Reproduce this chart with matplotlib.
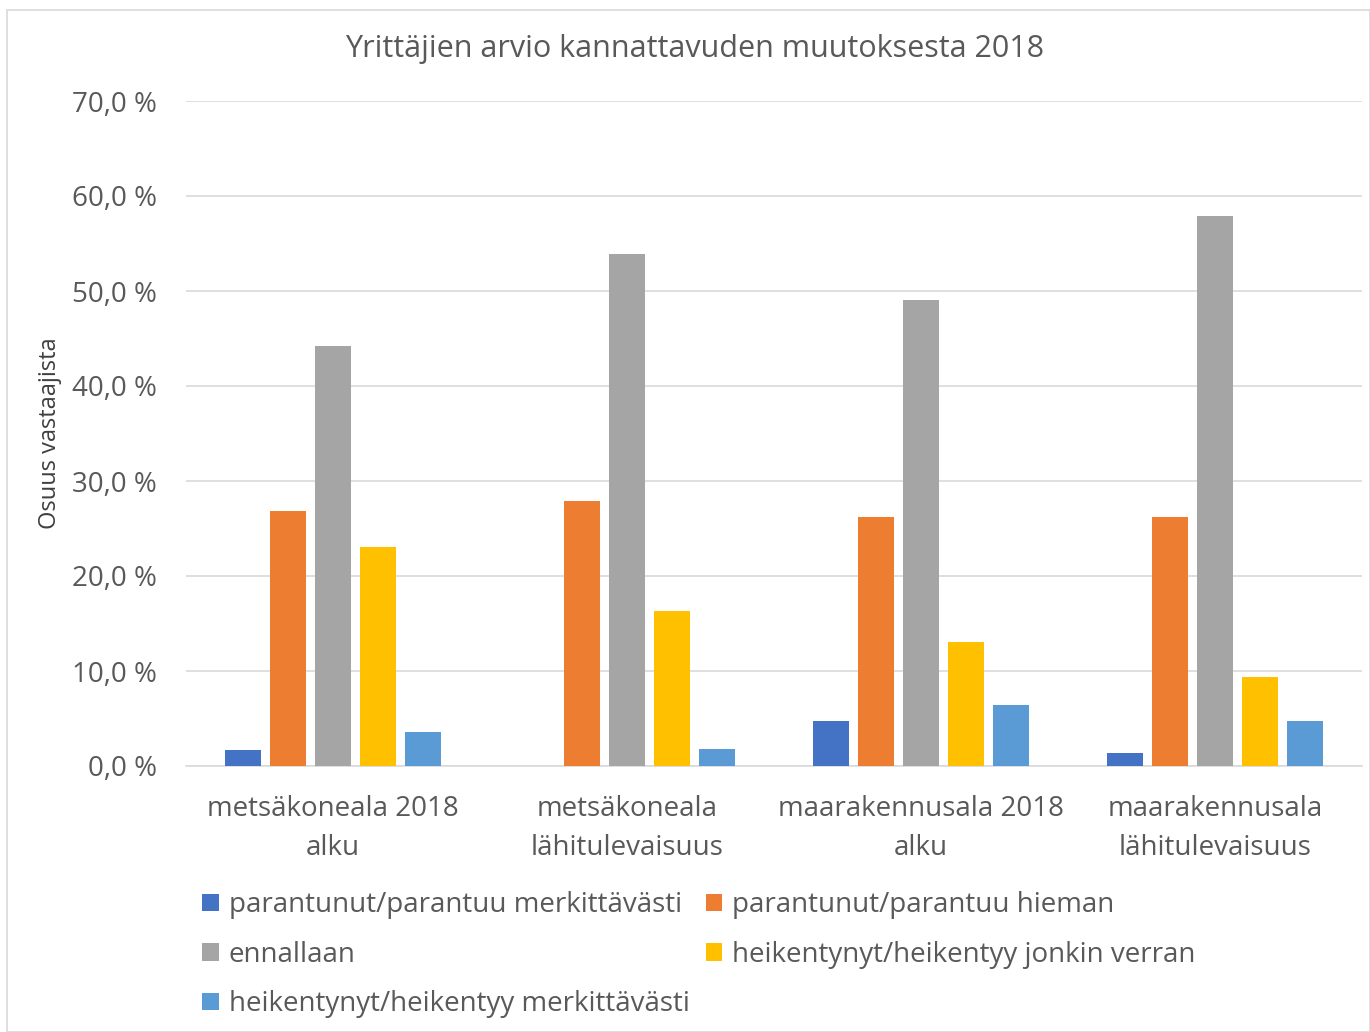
import matplotlib
matplotlib.use("Agg")
import matplotlib.pyplot as plt
import numpy as np
from matplotlib.patches import Rectangle

plt.rcParams['font.family'] = ['Open Sans', 'DejaVu Sans']

categories = ["metsäkoneala 2018\nalku", "metsäkoneala\nlähitulevaisuus",
              "maarakennusala 2018\nalku", "maarakennusala\nlähitulevaisuus"]
series_names = ["parantunut/parantuu merkittävästi", "parantunut/parantuu hieman",
                "ennallaan", "heikentynyt/heikentyy jonkin verran",
                "heikentynyt/heikentyy merkittävästi"]
parantunut_merk = [1.7, 0.0, 4.7, 1.4]
parantunut_hieman = [26.8, 27.9, 26.2, 26.2]
ennallaan = [44.2, 53.9, 49.1, 57.9]
heikentynyt_jonkin = [23.1, 16.3, 13.1, 9.4]
heikentynyt_merk = [3.6, 1.8, 6.4, 4.7]
yticks = [0, 10, 20, 30, 40, 50, 60, 70]

colors = ["#4472C4", "#ED7D31", "#A5A5A5", "#FFC000", "#5B9BD5"]
series = [parantunut_merk, parantunut_hieman, ennallaan, heikentynyt_jonkin, heikentynyt_merk]

fig = plt.figure(figsize=(13.7, 10.32), dpi=100)
W, H = 1370, 1032
ax = fig.add_axes([186 / W, 1 - 766 / H, 1176 / W, (766 - 101) / H])

x = np.arange(len(categories))
step = 0.153
width = 0.122
handles = []
for i, (vals, c, name) in enumerate(zip(series, colors, series_names)):
    b = ax.bar(x + (i - 2) * step, vals, width, color=c, label=name, zorder=3)
    handles.append(b)

ax.set_xlim(-0.5, 3.5)
ax.set_ylim(0, 70)
ax.set_yticks(yticks)
ax.set_yticklabels([f"{v:.1f} %".replace(".", ",") for v in yticks])
ax.set_xticks(x)
ax.set_xticklabels(categories, linespacing=1.5)
ax.tick_params(axis='both', length=0, labelsize=20, colors="#595959")
ax.tick_params(axis='y', pad=21)
ax.tick_params(axis='x', pad=21)
ax.grid(axis='y', color="#D9D9D9", linewidth=1.2, zorder=0)
for s in ['top', 'right', 'left']:
    ax.spines[s].set_visible(False)
ax.spines['bottom'].set_color("#D9D9D9")
ax.spines['bottom'].set_linewidth(1.2)

ax.set_ylabel("Osuus vastaajista", fontsize=17, color="#404040")
ax.yaxis.set_label_coords(-124 / 1176, 0.50)

fig.text(695 / W, 1 - 49 / H, "Yrittäjien arvio kannattavuden muutoksesta 2018",
         ha='center', va='center', fontsize=22, color="#595959")

order = [0, 2, 4, 1, 3]
leg = fig.legend([handles[i] for i in order], [series_names[i] for i in order],
                 ncol=2, loc='upper left', bbox_to_anchor=(183 / W, 1 - 872 / H),
                 frameon=False, fontsize=20, handlelength=0.6, handleheight=0.6,
                 handletextpad=0.35, columnspacing=0.58, labelspacing=0.77,
                 labelcolor="#595959", borderpad=0.2)

fig.patches.append(Rectangle((7 / W, 0), 1 - 7 / W, 1 - 10 / H, transform=fig.transFigure,
                             fill=False, edgecolor="#D9D9D9", linewidth=1.2))

fig.savefig("out.png", dpi=100, facecolor="white")
